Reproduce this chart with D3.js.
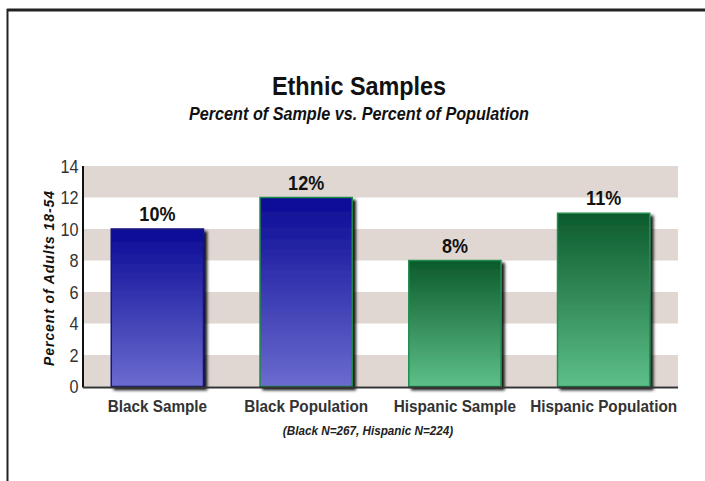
<!DOCTYPE html>
<html><head><meta charset="utf-8">
<script src="https://cdn.jsdelivr.net/npm/d3@7"></script>
<style>
body{margin:0;background:#fff;}
svg{display:block;}
text{font-family:"Liberation Sans Narrow","Arial Narrow","Liberation Sans",Arial,sans-serif;}
</style></head>
<body>
<script>
const categories = ["Black Sample","Black Population","Hispanic Sample","Hispanic Population"];
const values = [10, 12, 8, 11];
const valueLabels = ["10%","12%","8%","11%"];
const groups = ["black","black","hispanic","hispanic"];
const yTicks = [0,2,4,6,8,10,12,14];
const title = "Ethnic Samples";
const subtitle = "Percent of Sample vs. Percent of Population";
const yTitle = "Percent of Adults 18-54";
const footnote = "(Black N=267, Hispanic N=224)";

const W = 705, H = 481;
const SX = 0.9; // horizontal condensing to mimic a narrow face
const svg = d3.select("body").append("svg").attr("width", W).attr("height", H);
const defs = svg.append("defs");

const gb = defs.append("linearGradient").attr("id","gBlue").attr("x1",0).attr("y1",0).attr("x2",0).attr("y2",1);
gb.append("stop").attr("offset","0%").attr("stop-color","#0a0a96");
gb.append("stop").attr("offset","100%").attr("stop-color","#6b6bcf");
const gg = defs.append("linearGradient").attr("id","gGreen").attr("x1",0).attr("y1",0).attr("x2",0).attr("y2",1);
gg.append("stop").attr("offset","0%").attr("stop-color","#0c5a2c");
gg.append("stop").attr("offset","100%").attr("stop-color","#5dbf89");
const f = defs.append("filter").attr("id","shadow").attr("x","-10%").attr("y","-10%").attr("width","130%").attr("height","130%");
f.append("feDropShadow").attr("dx",3).attr("dy",3).attr("stdDeviation",1.4).attr("flood-color","#000").attr("flood-opacity",0.9);

function label(parent, x, y, str, size, opts = {}) {
  return parent.append("text")
    .attr("transform", `translate(${x},${y}) scale(${opts.sx ?? SX},1)`)
    .attr("text-anchor", opts.anchor || "middle")
    .attr("font-size", size)
    .attr("font-weight", opts.weight || "bold")
    .attr("font-style", opts.style || "normal")
    .attr("fill", opts.fill || "#111")
    .text(str);
}

// frame
svg.append("line").attr("x1",7).attr("x2",W).attr("y1",10).attr("y2",10).attr("stroke","#222").attr("stroke-width",3);
svg.append("line").attr("x1",7.5).attr("x2",7.5).attr("y1",9).attr("y2",H).attr("stroke","#222").attr("stroke-width",2);

const pLeft = 83, pRight = 678, pTop = 166, pBottom = 386.5;
const x = d3.scaleBand().domain(categories).range([pLeft, pRight]).paddingInner(0.38).paddingOuter(0.19);
const y = d3.scaleLinear().domain([0,14]).range([pBottom, pTop]);

// bands
const bandStarts = yTicks.filter((t,i)=> i < yTicks.length-1 && i % 2 === 0);
svg.append("g").selectAll("rect").data(bandStarts).join("rect")
  .attr("x", pLeft).attr("width", pRight-pLeft)
  .attr("y", d=>y(d+2)).attr("height", d=>y(d)-y(d+2))
  .attr("fill","#e0d7d2");

// bars
const borderCol = ["#16167a","#1f8a4a","#238f50","#238f50"];
svg.append("g").selectAll("rect").data(values).join("rect")
  .attr("x",(d,i)=>x(categories[i])).attr("width",x.bandwidth())
  .attr("y",d=>y(d)).attr("height",d=>y(0)-y(d))
  .attr("fill",(d,i)=>groups[i]==="black"?"url(#gBlue)":"url(#gGreen)")
  .attr("stroke",(d,i)=>borderCol[i]).attr("stroke-width",1.5)
  .attr("filter","url(#shadow)");

// value labels
const vl = svg.append("g");
values.forEach((d,i)=>{
  label(vl, x(categories[i])+x.bandwidth()/2, y(d)-8, valueLabels[i], 20);
});

// axes
const yAxis = d3.axisLeft(y).tickValues(yTicks).tickSize(0).tickPadding(5);
const ya = svg.append("g").attr("transform",`translate(${pLeft},0)`).call(yAxis);
ya.select(".domain").remove();
ya.selectAll("text").attr("font-size",18).attr("fill","#333").attr("dy","0.36em")
  .attr("transform",`scale(${SX},1)`)
  .style("font-family",'"Liberation Sans Narrow","Arial Narrow","Liberation Sans",Arial,sans-serif');
svg.append("line").attr("x1",pLeft).attr("x2",pLeft).attr("y1",pTop).attr("y2",pBottom+1).attr("stroke","#111").attr("stroke-width",2);

const xAxis = d3.axisBottom(x).tickSize(0).tickPadding(13);
const xa = svg.append("g").attr("transform",`translate(0,${pBottom})`).call(xAxis);
xa.select(".domain").remove();
xa.selectAll("text").attr("font-size",17).attr("font-weight","bold").attr("fill","#333")
  .attr("transform",`scale(${SX},1)`)
  .style("font-family",'"Liberation Sans Narrow","Arial Narrow","Liberation Sans",Arial,sans-serif');
svg.append("line").attr("x1",pLeft).attr("x2",pRight).attr("y1",pBottom+1).attr("y2",pBottom+1).attr("stroke","#333").attr("stroke-width",2);

// titles
label(svg, 359, 95, title, 26);
label(svg, 359, 120, subtitle, 18, {style:"italic"});
svg.append("text").attr("transform","translate(54,278) rotate(-90)").attr("text-anchor","middle")
  .attr("font-size",14).attr("letter-spacing",0.9).attr("font-weight","bold").attr("font-style","italic").attr("fill","#111").text(yTitle);
label(svg, 368, 435, footnote, 13, {style:"italic", fill:"#222"});
</script>
</body></html>
